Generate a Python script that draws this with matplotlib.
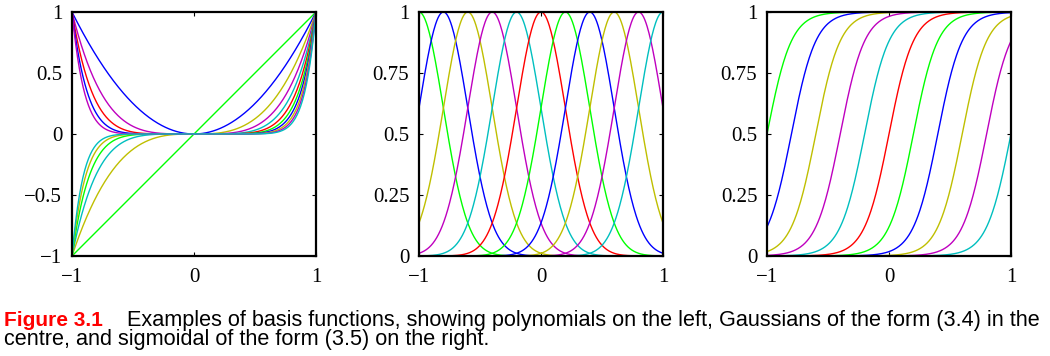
import numpy as np
import matplotlib
matplotlib.use("Agg")
import matplotlib.pyplot as plt

# ---- data / parameters of the basis functions ----
poly_degrees = [1, 2, 3, 4, 5, 6, 7, 8, 9, 10, 11]
gauss_centres = [-1.0, -0.8, -0.6, -0.4, -0.2, 0.0, 0.2, 0.4, 0.6, 0.8, 1.0]
gauss_width = 0.2
sigm_centres = [-1.0, -0.8, -0.6, -0.4, -0.2, 0.0, 0.2, 0.4, 0.6, 0.8, 1.0]
sigm_scale = 0.1
colour_cycle = [(0, 1, 0), (0, 0, 1), (0.75, 0.75, 0), (0.75, 0, 0.75),
                (0, 0.75, 0.75), (1, 0, 0)]
x_ticks = [-1, 0, 1]
x_ticklabels = ["\u22121", "0", "1"]
y_ticks_poly = [-1, -0.5, 0, 0.5, 1]
y_ticklabels_poly = ["\u22121", "\u22120.5", "0", "0.5", "1"]
y_ticks_unit = [0, 0.25, 0.5, 0.75, 1]
y_ticklabels_unit = ["0", "0.25", "0.5", "0.75", "1"]

caption_bold = "Figure 3.1"
caption_line1 = "Examples of basis functions, showing polynomials on the left, Gaussians of the form (3.4) in the"
caption_line2 = "centre, and sigmoidal of the form (3.5) on the right."

cap_font = "Liberation Sans"
serif = "Liberation Serif"

x = np.linspace(-1, 1, 400)

fig = plt.figure(figsize=(10.5, 3.56), dpi=100)
W, H = 1050, 356

def make_ax(left, right, top=12, bottom=256):
    return fig.add_axes([left / W, 1 - bottom / H, (right - left) / W, (bottom - top) / H])

axes = [make_ax(72, 316), make_ax(419, 663), make_ax(767, 1011)]

for i, d in enumerate(poly_degrees):
    axes[0].plot(x, x ** d, color=colour_cycle[i % 6], lw=1.0)
for i, mu in enumerate(gauss_centres):
    axes[1].plot(x, np.exp(-(x - mu) ** 2 / (2 * gauss_width ** 2)), color=colour_cycle[i % 6], lw=1.0)
for i, mu in enumerate(sigm_centres):
    axes[2].plot(x, 1 / (1 + np.exp(-(x - mu) / sigm_scale)), color=colour_cycle[i % 6], lw=1.0)

for k, ax in enumerate(axes):
    ax.set_xlim(-1, 1)
    if k == 0:
        ax.set_ylim(-1, 1)
        ax.set_yticks(y_ticks_poly)
        ax.set_yticklabels(y_ticklabels_poly)
    else:
        ax.set_ylim(0, 1)
        ax.set_yticks(y_ticks_unit)
        ax.set_yticklabels(y_ticklabels_unit)
    ax.set_xticks(x_ticks)
    ax.set_xticklabels(x_ticklabels)
    ax.tick_params(direction="in", top=True, right=True, length=3, width=0.8,
                   labelsize=15)
    ax.tick_params(axis="x", pad=9)
    ax.tick_params(axis="y", pad=7)
    for lab in ax.get_xticklabels() + ax.get_yticklabels():
        lab.set_fontfamily(serif)
    for sp in ax.spines.values():
        sp.set_linewidth(1.6)

# caption
fig.text(4 / W, 1 - 326 / H, caption_bold, color="#ff0000", fontweight="bold",
         fontsize=15, family=cap_font, va="baseline")
fig.text(127 / W, 1 - 326 / H, caption_line1, color="black",
         fontsize=15.6, family=cap_font, va="baseline")
fig.text(4 / W, 1 - 345.5 / H, caption_line2, color="black",
         fontsize=15.6, family=cap_font, va="baseline")

fig.savefig("out.png", dpi=100)
